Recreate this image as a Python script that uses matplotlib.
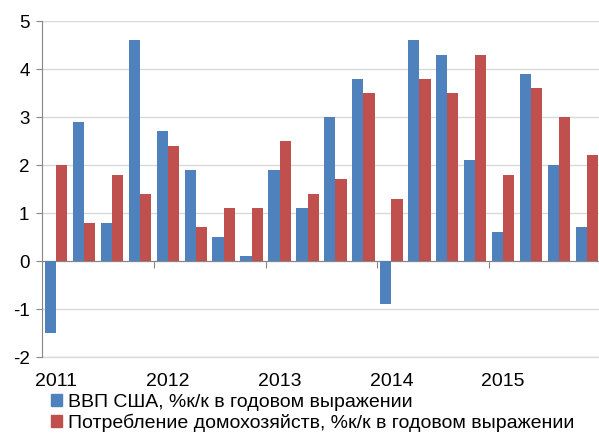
import numpy as np
import matplotlib.pyplot as plt
from matplotlib.patches import Patch

plt.rcParams['font.family'] = ['Liberation Sans', 'DejaVu Sans']
plt.rcParams['axes.unicode_minus'] = False

years = ["2011", "2012", "2013", "2014", "2015"]
gdp = [-1.5, 2.9, 0.8, 4.6,
       2.7, 1.9, 0.5, 0.1,
       1.9, 1.1, 3.0, 3.8,
       -0.9, 4.6, 4.3, 2.1,
       0.6, 3.9, 2.0, 0.7]
consumption = [2.0, 0.8, 1.8, 1.4,
               2.4, 0.7, 1.1, 1.1,
               2.5, 1.4, 1.7, 3.5,
               1.3, 3.8, 3.5, 4.3,
               1.8, 3.6, 3.0, 2.2]
labels = ["ВВП США, %к/к в годовом выражении",
          "Потребление домохозяйств, %к/к в годовом выражении"]

blue = "#4F81BD"
red = "#C0504D"
axis_gray = "#868686"

fig = plt.figure(figsize=(5.99, 4.34), dpi=100)
ax = fig.add_axes([42 / 599, 1 - 357 / 434, 559 / 599, 336 / 434])

x = np.arange(len(gdp)) + 0.5
w = 0.4
ax.bar(x - w / 2, gdp, w, color=blue, zorder=3)
ax.bar(x + w / 2, consumption, w, color=red, zorder=3)

ax.set_xlim(0, len(gdp))
ax.set_ylim(-2, 5)
ax.set_yticks(range(-2, 6))
ax.tick_params(axis='y', labelsize=13.5, length=4, color=axis_gray, pad=5)
ax.yaxis.grid(True, color="#D9D9D9", linewidth=1, zorder=0)
ax.axhline(-2, color="#D9D9D9", linewidth=1, clip_on=False, zorder=0)

# zero line with ticks at year boundaries
ax.spines['bottom'].set_position(('data', 0))
ax.spines['bottom'].set_color(axis_gray)
ax.set_xticks([4, 8, 12, 16])
ax.set_xticklabels([])
ax.tick_params(axis='x', length=5, color=axis_gray, direction='out')

# year labels under the plot, at the first quarter of each year
for i, yr in enumerate(years):
    ax.annotate(yr, xy=(0.5 + 4 * i, -2), xycoords='data',
                xytext=(0, -17.5), textcoords='offset points',
                ha='center', va='center', fontsize=14, annotation_clip=False)

ax.spines['top'].set_visible(False)
ax.spines['right'].set_visible(False)
ax.spines['left'].set_color(axis_gray)

handles = [Patch(color=blue), Patch(color=red)]
fig.legend(handles, labels, loc='upper left', bbox_to_anchor=(51 / 599, 1 - 394 / 434),
           frameon=False, fontsize=14, handlelength=0.55, handleheight=0.55,
           handletextpad=0.3, labelspacing=0.12, borderpad=0, borderaxespad=0)

fig.savefig("out.png", dpi=100)
